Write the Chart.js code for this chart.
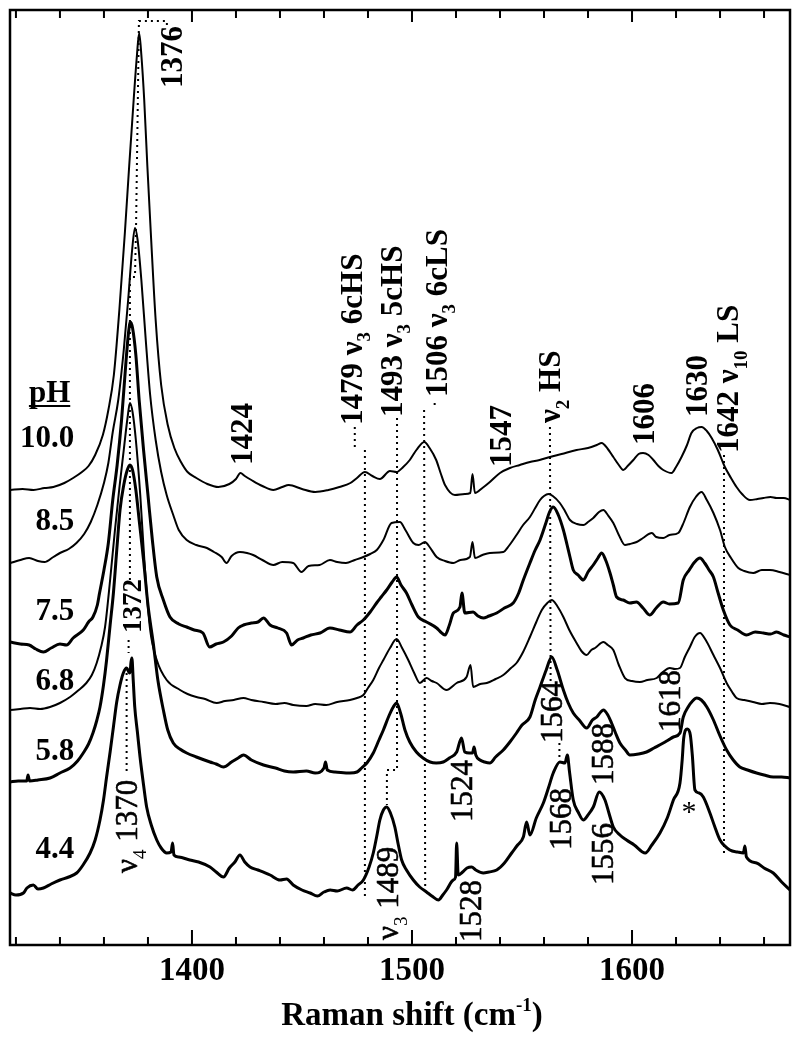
<!DOCTYPE html>
<html>
<head>
<meta charset="utf-8">
<script src="https://cdn.jsdelivr.net/npm/chart.js@4.4.1/dist/chart.umd.min.js"></script>
<style>
  html, body { margin: 0; padding: 0; background: #fff; }
  canvas { display: block; }
</style>
</head>
<body>
<canvas id="ramanChart" width="800" height="1038"></canvas>
<script>
// Raman spectra, [wavenumber cm-1, intensity a.u.] with the stacking offset included
const pH10_0 = [[1317.5,455],[1323,456],[1328,455],[1333,457],[1337,458],[1342,462],[1346,467],[1350,473],[1353,479],[1356,490],[1359.5,510],[1362,535],[1364.5,570],[1367,635],[1369.5,712],[1371.5,780],[1373.5,845],[1375,890],[1376,912],[1377,890],[1378.3,845],[1379.7,780],[1381.3,712],[1383.5,625],[1386,560],[1389,520],[1392,497],[1395,483],[1398,473],[1402,467],[1407,461],[1412,458],[1417,461],[1420,466],[1422,472],[1424,469],[1427,465],[1432,459],[1437,455],[1441,458],[1444,460],[1450,456],[1456,453],[1462,455],[1467,458],[1472,462],[1475,467],[1478.6,473],[1482,469],[1485.4,466],[1490,474],[1493,473],[1496,478],[1499,485],[1502,495],[1505.6,503],[1508,497],[1511,485],[1513,472],[1515,460],[1519.5,450],[1524,451],[1526.5,452],[1527.5,471],[1528.6,452],[1532,457],[1535.4,463],[1540,472],[1544.5,477],[1549,480],[1553.6,483],[1558,485],[1562.7,488],[1568,491],[1574.8,495],[1580,497],[1584,500],[1586.2,502],[1589,496],[1591.5,488],[1594,480],[1596,475],[1598,479],[1600.6,485],[1603,491],[1605,492],[1607.5,490],[1609.7,485],[1612,479],[1614.2,475],[1618,472],[1620,478],[1622.5,488],[1625,500],[1627,512],[1629.5,517],[1631.6,518],[1634,514],[1636.2,507],[1639,495],[1642.2,478],[1645,467],[1647.5,458],[1650,451],[1653.6,445],[1657,446],[1659.7,447],[1663,448],[1665.7,447],[1669,447],[1671.8,445]];
const pH8_5 = [[1317.5,382],[1322,385],[1326,387],[1330,384],[1333,383],[1337,388],[1340,392],[1344,396],[1347.5,402],[1351,411],[1354,423],[1357,440],[1360,462],[1362,482],[1364,513],[1366.5,545],[1369,595],[1371,645],[1372.8,695],[1374.1,717],[1375.3,705],[1377,665],[1379,605],[1381,550],[1383.5,505],[1386,473],[1388.5,450],[1391.5,430],[1394,415],[1397.6,405],[1402,400],[1406.8,397],[1410,393],[1413.5,388],[1415.7,382],[1418,389],[1421.8,393],[1425,392],[1427.8,390],[1432,385],[1437,380],[1441,383],[1446,382],[1449.8,373],[1453,379],[1458,380],[1462.7,385],[1466,383],[1470,382],[1474,385],[1477.9,388],[1481,391],[1484,395],[1487,405],[1490.7,422],[1494.5,423],[1497,415],[1500.6,402],[1503,400],[1505.9,403],[1508,398],[1511.2,388],[1515,384],[1518.8,382],[1522,385],[1526.3,388],[1527.5,403],[1528.6,387],[1532,390],[1535.4,392],[1541.5,393],[1544,399],[1547.5,410],[1550.5,420],[1553.6,428],[1556,437],[1558.2,445],[1560,449],[1562,451],[1564,449],[1567.2,442],[1569.5,434],[1571.8,425],[1575,421],[1577.9,420],[1580,423],[1582.4,427],[1585,433],[1587,435],[1589,430],[1591.5,422],[1594,410],[1596.8,400],[1599,401],[1602.1,403],[1605,407],[1609,412],[1611,408],[1614.2,407],[1617,410],[1621,412],[1623,420],[1626.3,438],[1629,448],[1631.6,453],[1634,445],[1637,432],[1640,415],[1642.2,398],[1645,387],[1648.3,377],[1651,374],[1655.1,372],[1659,375],[1662.7,375],[1667,373],[1671.8,370]];
const pH7_5 = [[1317.3,303],[1322,301],[1326,300],[1329,296],[1332.5,293],[1336,297],[1340,301],[1343,300],[1346,307],[1350.6,315],[1353,323],[1355,328],[1357,340],[1358,352],[1360,375],[1362,402],[1364,445],[1366,480],[1368,525],[1370,583],[1371.2,613],[1372,623],[1373,617],[1374.5,590],[1376,545],[1378,495],[1380,450],[1382,405],[1384,368],[1387,345],[1390,328],[1394,321],[1397.6,318],[1401,315],[1405,312],[1408,298],[1411,301],[1414.3,303],[1418,309],[1421,317],[1423.4,320],[1427,322],[1430,323],[1432.5,327],[1435.5,320],[1439,317],[1443,312],[1445.3,300],[1448,305],[1450.6,307],[1454,310],[1458.2,312],[1462.7,317],[1467,315],[1471.8,313],[1475,320],[1477.9,325],[1481,333],[1483.9,342],[1486,348],[1488.5,355],[1491,363],[1493,368],[1495,360],[1497.5,352],[1500,340],[1502.9,328],[1506.6,323],[1511.2,317],[1513,313],[1515,310],[1517,320],[1518.8,332],[1521.8,338],[1522.7,352],[1524,332],[1527.8,333],[1530,329],[1532.4,327],[1535,329],[1538.5,332],[1542,337],[1546,342],[1548.5,352],[1550.6,365],[1553.6,382],[1556,395],[1558.2,405],[1561,423],[1562.5,433],[1564.2,438],[1566.5,430],[1568.8,415],[1570.5,400],[1571.8,388],[1573.3,375],[1575.5,370],[1577.9,365],[1580,373],[1582.4,380],[1584.5,387],[1586.2,392],[1588,385],[1590,372],[1591.5,360],[1593,348],[1596,345],[1599,342],[1602,343],[1605,337],[1608,330],[1611,337],[1614.2,343],[1617,341],[1621,342],[1623.3,365],[1626,375],[1628.5,383],[1630.9,387],[1633,382],[1635,375],[1637,368],[1639,353],[1641.5,335],[1644.5,320],[1648,315],[1652,310],[1656,313],[1659.7,312],[1663,311],[1665.7,313],[1669,310],[1671.8,308]];
const pH6_8 = [[1317.3,235],[1322,236],[1326.4,237],[1331,236],[1335.5,238],[1340,242],[1344.6,248],[1348,254],[1352,262],[1354.5,270],[1356.7,282],[1358.7,298],[1360.5,318],[1362.8,365],[1365,415],[1367,457],[1369,495],[1370.7,527],[1371.8,542],[1373,533],[1374.5,505],[1376.5,450],[1378.5,380],[1381,315],[1384,285],[1388.5,265],[1394.6,255],[1398,251],[1402,248],[1406,246],[1411.2,242],[1415,244],[1419,245],[1423.4,247],[1427,245],[1432.5,243],[1438,241],[1442,242],[1446,240],[1452,239],[1456,241],[1461,240],[1466,243],[1471.8,245],[1475,247],[1477.9,250],[1480,257],[1482.4,265],[1485,277],[1487,285],[1490,297],[1493,306],[1495.5,297],[1498.3,285],[1501,272],[1503.6,262],[1506.6,267],[1509,264],[1511.2,262],[1515.7,255],[1520.3,262],[1524.8,268],[1526.6,280],[1527.8,258],[1531,261],[1534,262],[1538,266],[1541.5,270],[1545,277],[1547.5,282],[1550.5,293],[1553.6,308],[1556.5,323],[1559,335],[1561.5,342],[1563.5,345],[1566,339],[1568.8,328],[1571.5,315],[1574.8,302],[1577,294],[1579.4,290],[1581.5,295],[1583.2,297],[1587,303],[1589,300],[1591.5,295],[1594,280],[1596.8,267],[1600,264],[1603.6,263],[1607,265],[1611.2,267],[1614,273],[1617.2,277],[1619.5,276],[1621.8,277],[1624,288],[1626.3,298],[1628.5,308],[1630.9,312],[1633.5,305],[1637,290],[1640,277],[1643,262],[1645.5,253],[1647.5,247],[1651,245],[1655,243],[1659,241],[1662.7,242],[1667,241],[1671.8,238]];
const pH5_8 = [[1317.3,163],[1321,164],[1324.9,164],[1325.5,170],[1326.2,164],[1330,165],[1335.5,167],[1340,172],[1344.6,177],[1348,184],[1350.6,192],[1353,201],[1355,212],[1356.8,225],[1358.2,238],[1359.8,260],[1361.2,285],[1362.8,320],[1364.3,352],[1366,400],[1367.3,435],[1369,460],[1370.6,475],[1371.8,480],[1373,475],[1374.5,455],[1376,425],[1378,385],[1380,340],[1382.4,302],[1384.5,265],[1387,235],[1389,215],[1391.5,202],[1394.5,196],[1397.6,192],[1402,188],[1408.2,183],[1411,181],[1414.3,178],[1418,183],[1421,187],[1423.4,190],[1427,185],[1432.5,180],[1438,177],[1442,174],[1446,173],[1452,174],[1456,172],[1460,177],[1460.7,183],[1461.5,175],[1465,173],[1471.8,172],[1475,173],[1477.1,177],[1479.5,182],[1482.4,192],[1485,205],[1487,215],[1489.5,229],[1491.5,238],[1493,242],[1494.8,232],[1496.8,215],[1499,203],[1502,193],[1505,187],[1508.2,183],[1511,182],[1514.2,183],[1517,187],[1520.3,193],[1522.5,207],[1524,193],[1526,192],[1527.5,192],[1528.2,198],[1529,190],[1530.9,185],[1533,183],[1535.4,182],[1538,188],[1541.5,195],[1544.5,203],[1547.5,212],[1550,220],[1553.6,228],[1556,245],[1558.2,258],[1561,275],[1563.5,288],[1566,275],[1568.8,255],[1571,242],[1573.3,232],[1576,225],[1579.4,217],[1582,225],[1584,228],[1585.8,233],[1587,235],[1589,230],[1590.7,222],[1592.5,212],[1594.5,202],[1597,195],[1599,190],[1603,191],[1606.6,193],[1610,197],[1614.2,202],[1616.5,205],[1618.8,208],[1621.8,212],[1623.3,228],[1625.5,238],[1627.5,244],[1629.4,247],[1631.5,245],[1634,238],[1637,225],[1640,209],[1643,195],[1646,185],[1649,178],[1652.5,175],[1656.6,172],[1660,170],[1664.2,168],[1668,168],[1671.8,167]];
const pH4_4 = [[1317.3,52],[1320,50],[1323.4,52],[1325,57],[1327.9,60],[1330,56],[1332.5,57],[1336,61],[1340,65],[1344,68],[1347.6,72],[1350.5,80],[1353.7,92],[1356,105],[1358.2,125],[1359.8,145],[1361.2,168],[1362.8,193],[1364.3,218],[1365.8,243],[1367.3,260],[1368.8,272],[1370.3,277],[1371.3,273],[1371.8,272],[1372.3,283],[1372.7,287],[1373.3,265],[1374,238],[1375.2,213],[1376.4,188],[1378,160],[1379.4,138],[1381.5,120],[1384,105],[1386,97],[1388.5,92],[1390.5,93],[1391.2,102],[1391.8,90],[1394,88],[1399,85],[1403,83],[1408.2,78],[1411,73],[1414.3,68],[1417,77],[1419.5,83],[1421.8,90],[1424,83],[1426.4,78],[1430,75],[1435.5,70],[1440,65],[1443,66],[1446,60],[1450,55],[1453.7,52],[1457,49],[1460,53],[1462.8,55],[1466,54],[1470.3,57],[1473,55],[1475.5,60],[1477.9,65],[1480.5,78],[1482.4,92],[1484,109],[1485.4,125],[1487,135],[1488.5,138],[1490.2,132],[1492.2,118],[1493.8,100],[1495.3,85],[1497.5,75],[1500.6,65],[1503.5,58],[1506.6,53],[1509,49],[1512,45],[1514,50],[1515.7,55],[1518.8,65],[1519.8,68],[1520.3,102],[1521,70],[1523,73],[1525,77],[1527.1,78],[1529,75],[1532.4,72],[1535,73],[1538.5,75],[1542,82],[1545.3,92],[1548,100],[1550.6,108],[1552.1,123],[1553.6,110],[1556.5,127],[1559.7,142],[1562,157],[1564.2,172],[1567.2,183],[1569.5,182],[1570.6,190],[1571.6,173],[1573.3,145],[1575.5,133],[1577.9,125],[1580,130],[1582.4,138],[1585.1,153],[1587.7,145],[1589.5,132],[1591.5,118],[1594.5,110],[1597.5,105],[1601,100],[1606,92],[1609,100],[1612.7,112],[1616,127],[1618.8,145],[1621.8,162],[1622.8,185],[1623.5,207],[1625.1,216],[1626.5,210],[1627.4,190],[1628.6,155],[1630.5,152],[1632.4,148],[1635.4,132],[1637.5,119],[1640,105],[1644.5,95],[1648,93],[1650.6,92],[1651.3,99],[1652,88],[1656.6,82],[1660,77],[1664.2,72],[1668,63],[1671.8,55]];

const phValues = ['10.0', '8.5', '7.5', '6.8', '5.8', '4.4'];
const phLabelY = [506, 423, 333, 263, 193, 95];
const spectra = [pH10_0, pH8_5, pH7_5, pH6_8, pH5_8, pH4_4];
const thickSpectra = [false, false, true, false, true, true];

const xMin = 1317.3, xMax = 1671.8;
const tickValues = [1320, 1340, 1360, 1380, 1400, 1420, 1440, 1460, 1480, 1500, 1520, 1540, 1560, 1580, 1600, 1620, 1640, 1660];

// dotted guide lines at band positions
const guideLines = [
  [[1388.6, 920], [1388.6, 924], [1375.9, 924], [1374.6, 720], [1374.1, 668], [1371.8, 668], [1371.8, 365]],
  [[1371.2, 305], [1371.2, 292]],
  [[1370.3, 272], [1370.3, 172]],
  [[1474, 518], [1474, 498]],
  [[1478.6, 495], [1478.6, 48]],
  [[1493.2, 527], [1493.2, 175], [1488.6, 175], [1488.6, 140]],
  [[1510.3, 542], [1510.3, 536]],
  [[1505.5, 535], [1506, 52]],
  [[1562.7, 518], [1563, 262]],
  [[1567, 202], [1567, 188]],
  [[1641.8, 490], [1641.8, 92]]
];

// band labels, text between underscores is a subscript; x = band, y = where the text starts
const bandLabels = [
  ['1376', 1390.9, 857, true],
  ['1424', 1422.7, 480, true],
  ['1479 ν_3_ 6cHS', 1472.3, 520, true],
  ['1493 ν_3_ 5cHS', 1490.5, 528, true],
  ['1506 ν_3_ 6cLS', 1511, 548, true],
  ['1547', 1540, 478, true],
  ['ν_2_ HS', 1562.7, 522, true],
  ['1606', 1605, 500, true],
  ['1630', 1629.5, 528, true],
  ['1642 ν_10_ LS', 1643.6, 492, true],
  ['1372', 1372.5, 312, true],
  ['ν_4_ 1370', 1370.3, 72, false],
  ['1564', 1563.2, 202, false],
  ['1588', 1586.6, 160, false],
  ['1618', 1616.8, 213, false],
  ['1524', 1522.7, 123, false],
  ['ν_3_ 1489', 1489, 5, false],
  ['1528', 1526.8, 3, false],
  ['1568', 1567.7, 95, false],
  ['1556', 1586.4, 60, false]
];

const serif = "'Liberation Serif', 'Times New Roman', serif";
const toPoints = arr => arr.map(([x, y]) => ({ x, y }));

function drawRich(ctx, text, size, bold) {
  const w = bold ? 'bold ' : '500 ';
  let pos = 0;
  text.split('_').forEach((seg, i) => {
    const sub = i % 2 === 1;
    ctx.font = w + Math.round(sub ? size * 0.62 : size) + 'px ' + serif;
    ctx.fillText(seg, pos, sub ? size * 0.28 : 0);
    if (!bold && !sub) ctx.strokeText(seg, pos, 0);
    pos += ctx.measureText(seg).width;
  });
}

const decorPlugin = {
  id: 'decor',
  afterDraw(chart) {
    const { ctx, chartArea: a, scales: { x, y } } = chart;
    ctx.save();
    ctx.strokeStyle = '#000';
    ctx.fillStyle = '#000';
    ctx.lineWidth = 2.5;
    ctx.strokeRect(a.left, a.top, a.right - a.left, a.bottom - a.top);

    ctx.lineWidth = 2;
    tickValues.forEach(v => {
      const px = x.getPixelForValue(v);
      const major = v % 100 === 0;
      ctx.beginPath();
      ctx.moveTo(px, a.bottom);
      ctx.lineTo(px, a.bottom - (major ? 15 : 8));
      ctx.moveTo(px, a.top);
      ctx.lineTo(px, a.top + (major ? 12 : 8));
      ctx.stroke();
    });

    // rotated band labels
    ctx.textAlign = 'left';
    ctx.textBaseline = 'alphabetic';
    ctx.lineWidth = 0.6;
    bandLabels.forEach(([txt, bx, by, bold]) => {
      const size = txt === '1372' ? 27 : 31;
      ctx.save();
      ctx.translate(x.getPixelForValue(bx), y.getPixelForValue(by));
      ctx.rotate(-Math.PI / 2);
      ctx.translate(0, size * 0.34);
      drawRich(ctx, txt, size, bold);
      ctx.restore();
    });

    ctx.font = '30px ' + serif;
    ctx.textAlign = 'center';
    ctx.textBaseline = 'middle';
    ctx.fillText('*', x.getPixelForValue(1625.9), y.getPixelForValue(132));

    // pH column
    ctx.textAlign = 'right';
    ctx.font = 'bold 31px ' + serif;
    const lx = x.getPixelForValue(1346.5);
    phValues.forEach((t, i) => ctx.fillText(t, lx, y.getPixelForValue(phLabelY[i])));
    const hy = y.getPixelForValue(551);
    ctx.fillText('pH', lx - 4, hy);
    const hw = ctx.measureText('pH').width;
    ctx.lineWidth = 2;
    ctx.beginPath();
    ctx.moveTo(lx - 4 - hw, hy + 12);
    ctx.lineTo(lx - 4, hy + 12);
    ctx.stroke();

    // axis title with superscript
    ctx.textAlign = 'left';
    ctx.textBaseline = 'alphabetic';
    ctx.font = 'bold 33px ' + serif;
    const main = 'Raman shift (cm';
    const mw = ctx.measureText(main).width;
    ctx.font = 'bold 19px ' + serif;
    const sw = ctx.measureText('-1').width;
    ctx.font = 'bold 33px ' + serif;
    const cw = ctx.measureText(')').width;
    const tx = x.getPixelForValue(1500) - (mw + sw + cw) / 2;
    const ty = 1025;
    ctx.fillText(main, tx, ty);
    ctx.font = 'bold 19px ' + serif;
    ctx.fillText('-1', tx + mw, ty - 14);
    ctx.font = 'bold 33px ' + serif;
    ctx.fillText(')', tx + mw + sw, ty);
    ctx.restore();
  }
};

const datasets = [];
guideLines.forEach(g => datasets.push({
  data: toPoints(g),
  borderColor: '#000',
  borderWidth: 2,
  borderDash: [2, 4],
  pointRadius: 0,
  tension: 0,
  order: 2
}));
spectra.forEach((s, i) => datasets.push({
  label: 'pH ' + phValues[i],
  data: toPoints(s),
  borderColor: '#000',
  borderWidth: thickSpectra[i] ? 3 : 2,
  pointRadius: 0,
  cubicInterpolationMode: 'monotone',
  order: 1
}));

new Chart(document.getElementById('ramanChart').getContext('2d'), {
  type: 'line',
  data: { datasets },
  options: {
    responsive: false,
    animation: false,
    devicePixelRatio: 1,
    layout: { padding: { left: 10, right: 10, top: 10, bottom: 0 } },
    plugins: { legend: { display: false }, tooltip: { enabled: false } },
    scales: {
      x: {
        type: 'linear',
        min: xMin,
        max: xMax,
        afterBuildTicks: scale => { scale.ticks = tickValues.map(v => ({ value: v })); },
        afterFit: scale => { scale.height = 93; },
        grid: { display: false, drawTicks: false },
        border: { display: false },
        ticks: {
          autoSkip: false,
          maxRotation: 0,
          padding: 7,
          color: '#000',
          font: { family: serif, size: 33, weight: 'bold' },
          callback: v => (v % 100 === 0 ? String(v) : '')
        }
      },
      y: { display: false, min: 0, max: 935 }
    }
  },
  plugins: [decorPlugin]
});
</script>
</body>
</html>
